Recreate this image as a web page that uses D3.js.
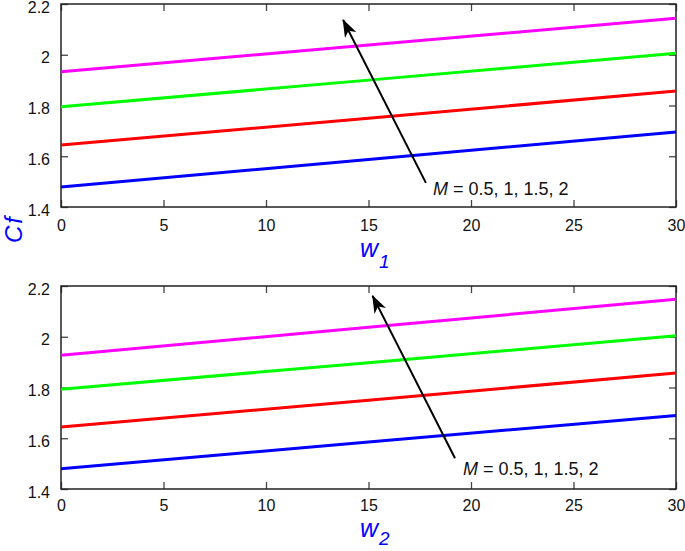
<!DOCTYPE html>
<html><head><meta charset="utf-8">
<script src="https://cdn.jsdelivr.net/npm/d3@7"></script>
<style>body{margin:0;background:#fff}svg{display:block}text{font-family:"Liberation Sans",Arial,sans-serif}</style>
</head><body><svg id="c" width="685" height="551"></svg>
<script>
const wValues = [0, 15, 30];
const seriesNames = ["M = 0.5", "M = 1", "M = 1.5", "M = 2"];
const seriesColors = ["#0000ff", "#ff0000", "#00ff00", "#ff00ff"];
const topValues = [
  [1.479, 1.587, 1.696],
  [1.644, 1.750, 1.857],
  [1.795, 1.900, 2.006],
  [1.933, 2.038, 2.144]
];
const bottomValues = [
  [1.480, 1.585, 1.690],
  [1.644, 1.750, 1.857],
  [1.793, 1.898, 2.004],
  [1.927, 2.037, 2.148]
];
const xTicks = [0, 5, 10, 15, 20, 25, 30];
const yTicks = [1.4, 1.6, 1.8, 2.0, 2.2];
const annotationText = " = 0.5, 1, 1.5, 2";
// arrow tail/head in data coordinates
const topArrow = {x1: 17.8, y1: 1.495, x2: 13.76, y2: 2.137};
const bottomArrow = {x1: 19.22, y1: 1.521, x2: 15.2, y2: 2.161};

const svg = d3.select("#c");
const defs = svg.append("defs");
defs.append("marker").attr("id","ah").attr("viewBox","0 0 18 13").attr("refX",17).attr("refY",6.5)
  .attr("markerWidth",18).attr("markerHeight",13).attr("markerUnits","userSpaceOnUse").attr("orient","auto")
  .append("path").attr("d","M0,0 L18,6.5 L0,13 L5,6.5 Z").attr("fill","#000");

function panel(top, bottom, values, arrow, textPos, sub, labelY, pad, subDy) {
  const x = d3.scaleLinear().domain([0,30]).range([61,676]);
  const y = d3.scaleLinear().domain([1.4,2.2]).range([bottom, top]);
  const g = svg.append("g");
  const fmt = d => d3.format("")(+d.toFixed(1));
  // axes
  g.append("g").attr("transform",`translate(0,${bottom})`).call(d3.axisBottom(x).tickValues(xTicks).tickSizeInner(-7).tickSizeOuter(0).tickPadding(pad).tickFormat(fmt));
  g.append("g").attr("transform",`translate(0,${top})`).call(d3.axisTop(x).tickValues(xTicks).tickSizeInner(-7).tickSizeOuter(0).tickFormat(""));
  const yl = g.append("g").attr("transform",`translate(61,0)`).call(d3.axisLeft(y).tickValues(yTicks).tickSizeInner(-7).tickSizeOuter(0).tickPadding(11).tickFormat(fmt));
  yl.selectAll(".tick text").attr("dy","0.5em");
  g.append("g").attr("transform",`translate(676,0)`).call(d3.axisRight(y).tickValues(yTicks).tickSizeInner(-7).tickSizeOuter(0).tickFormat(""));
  g.selectAll(".domain").remove();
  g.selectAll(".tick line").attr("stroke","#444").attr("stroke-width",1.3);
  g.selectAll(".tick text").attr("font-size",16).attr("fill","#111").attr("font-family","Liberation Sans, Arial, sans-serif");
  g.append("rect").attr("x",61).attr("y",top).attr("width",615).attr("height",bottom-top)
    .attr("fill","none").attr("stroke","#222").attr("stroke-width",1.5);
  // lines
  const line = d3.line().x((d,i)=>x(wValues[i])).y(d=>y(d));
  values.forEach((vals,k)=>{
    g.append("path").datum(vals).attr("d",line).attr("fill","none").attr("stroke",seriesColors[k]).attr("stroke-width",3);
  });
  // arrow
  g.append("line").attr("x1",x(arrow.x1)).attr("y1",y(arrow.y1)).attr("x2",x(arrow.x2)).attr("y2",y(arrow.y2))
    .attr("stroke","#000").attr("stroke-width",2).attr("marker-end","url(#ah)");
  const t = g.append("text").attr("x",textPos[0]).attr("y",textPos[1]).attr("font-size",18).attr("fill","#111");
  t.append("tspan").attr("font-style","italic").text("M");
  t.append("tspan").text(annotationText);
  // x label
  const xl = g.append("text").attr("x",360).attr("y",labelY).attr("fill","#0000ff").attr("font-style","italic");
  xl.append("tspan").attr("font-size",25).text("w");
  xl.append("tspan").attr("font-size",19).attr("dx",1).attr("dy",subDy).text(sub);
}
panel(4, 207, topValues, topArrow, [433,195], "1", 257, 13, 11);
panel(286, 489, bottomValues, bottomArrow, [463,475], "2", 537, 11, 8);

svg.append("text").attr("transform","translate(22,229) rotate(-90)").attr("text-anchor","middle")
  .attr("font-size",24).attr("font-style","italic").attr("fill","#0000ff").attr("letter-spacing",2).text("Cf");
</script></body></html>
